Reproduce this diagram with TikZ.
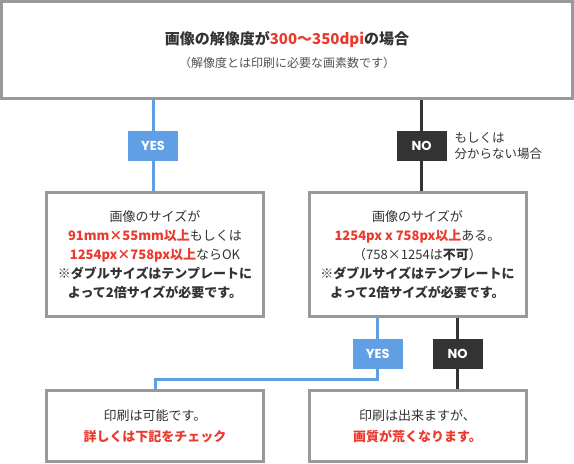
\documentclass[tikz,border=0pt]{standalone}
\usepackage{fontspec}
\setmainfont{Noto Sans CJK JP}
\newfontfamily\tagfont{Poppins}
\usetikzlibrary{calc}
\definecolor{boxgray}{HTML}{999999}
\definecolor{textdark}{HTML}{333333}
\definecolor{textred}{HTML}{EA3A2E}
\definecolor{yesblue}{HTML}{619FE4}
\definecolor{nodark}{HTML}{333333}
\newcommand{\hilite}[1]{{\bfseries\color{textred}#1}}
\tikzset{
	panel/.style={draw=boxgray, line width=3pt, fill=white, text=textdark, align=center, inner sep=0pt, minimum width=217pt},
	yestag/.style={fill=yesblue, text=white, minimum width=50pt, minimum height=30pt, inner sep=0pt, font=\tagfont\bfseries\fontsize{13}{13}\selectfont},
	notag/.style={yestag, fill=nodark},
	yesline/.style={draw=yesblue, line width=3pt},
	noline/.style={draw=nodark, line width=3pt},
}

\begin{document}
\begin{tikzpicture}[x=1pt, y=-1pt]
			%%%%% START %%%%%
			\useasboundingbox (0, 0) rectangle (574, 464);
			
			\node[panel, minimum width=571pt, minimum height=97pt, font=\fontsize{12}{23}\selectfont] (head) at (287, 50)
				{{\bfseries\fontsize{15}{23}\selectfont 画像の解像度が{\color{textred}300〜350dpi}の場合}\\
				{\color{textdark!85}（解像度とは印刷に必要な画素数です）}};
			
			\node[yestag] (yesA) at (153, 146) {YES};
			\node[notag] (noA) at (421.5, 146) {NO};
			\node[anchor=west, align=left, text=textdark, font=\fontsize{12.5}{16}\selectfont] (nonote) at (451, 146) {もしくは\\分からない場合};
			
			\node[panel, minimum height=124pt, font=\fontsize{13}{19}\selectfont] (fitbox) at (155, 254.5)
				{画像のサイズが\\
				\hilite{91mm×55mm以上}もしくは\\
				\hilite{1254px×758px以上}ならOK\\
				{\bfseries ※ダブルサイズはテンプレートに}\\
				{\bfseries よって2倍サイズが必要です。}};
			\node[panel, minimum height=124pt, font=\fontsize{13}{19}\selectfont] (checkbox) at (417.5, 254.5)
				{画像のサイズが\\
				\hilite{1254px x 758px以上}ある。\\
				（758×1254は{\bfseries 不可}）\\
				{\bfseries ※ダブルサイズはテンプレートに}\\
				{\bfseries よって2倍サイズが必要です。}};
			
			\node[yestag] (yesB) at (377.7, 354) {YES};
			\node[notag] (noB) at (457.7, 354) {NO};
			\coordinate (yesbend) at (377.7, 379.5);
			
			\node[panel, minimum height=71pt, font=\fontsize{13}{21}\selectfont] (okbox) at (155, 426)
				{印刷は可能です。\\\hilite{詳しくは下記をチェック}};
			\node[panel, minimum height=71pt, font=\fontsize{13}{21}\selectfont] (roughbox) at (417.5, 426)
				{印刷は出来ますが、\\\hilite{画質が荒くなります。}};
			
			\draw[yesline] (head.south -| yesA) -- (yesA.north);
			\draw[yesline] (yesA.south) -- (fitbox.north -| yesA);
			\draw[noline] (head.south -| noA) -- (noA.north);
			\draw[noline] (noA.south) -- (checkbox.north -| noA);
			
			\draw[yesline] (checkbox.south -| yesB) -- (yesB.north);
			\draw[yesline] (yesB.south) -- (yesbend) -| (okbox.north);
			\draw[noline] (checkbox.south -| noB) -- (noB.north);
			\draw[noline] (noB.south) -- (roughbox.north -| noB);
			%%%%% END %%%%%
\end{tikzpicture}
\end{document}
